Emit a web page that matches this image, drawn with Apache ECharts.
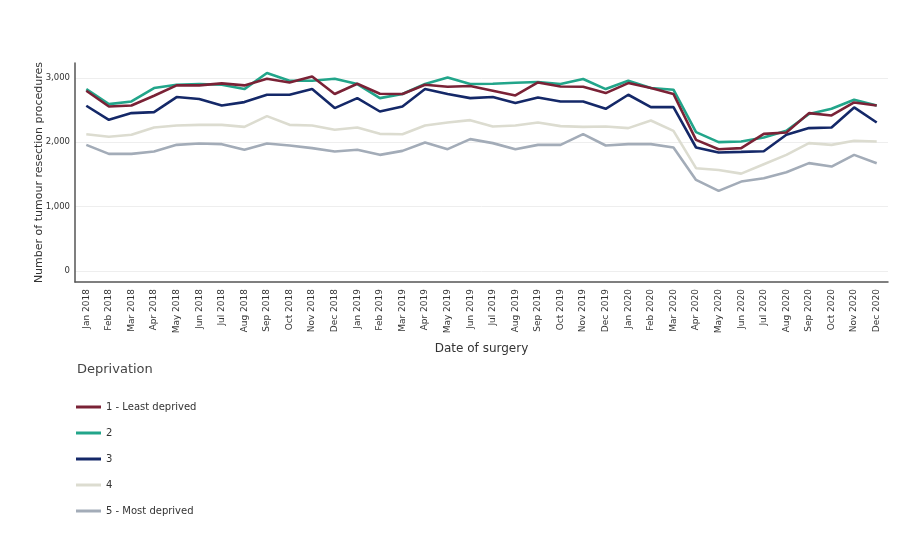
<!DOCTYPE html>
<html>
<head>
<meta charset="utf-8">
<script src="https://cdn.jsdelivr.net/npm/echarts@6/dist/echarts.min.js"></script>
<style>
html,body{margin:0;padding:0;background:#fff;}
#main{width:900px;height:555px;}
</style>
</head>
<body>
<div id="main"></div>
<script>
const months = ['Jan','Feb','Mar','Apr','May','Jun','Jul','Aug','Sep','Oct','Nov','Dec'];
const categories = [];
[2018, 2019, 2020].forEach(y => months.forEach(m => categories.push(m + ' ' + y)));

const seriesNames = ['1 - Least deprived', '2', '3', '4', '5 - Most deprived'];

const leastDeprived = [2800,2555,2570,2721,2882,2882,2913,2882,2986,2928,3021,2748,
                       2908,2752,2748,2892,2861,2872,2799,2726,2928,2866,2861,2763,
                       2918,2841,2748,2037,1892,1908,2130,2150,2452,2415,2617,2570];
const quintile2 =     [2825,2592,2633,2841,2892,2903,2892,2825,3074,2955,2955,2986,
                       2903,2685,2748,2903,3006,2903,2908,2923,2934,2903,2981,2825,
                       2955,2841,2815,2157,2001,2011,2073,2177,2437,2519,2659,2570];
const quintile3 =     [2566,2348,2452,2468,2701,2670,2570,2623,2737,2737,2825,2530,
                       2685,2477,2555,2825,2748,2685,2701,2608,2695,2633,2633,2519,
                       2737,2545,2545,1918,1840,1850,1861,2115,2219,2229,2540,2306];
const quintile4 =     [2125,2084,2115,2229,2260,2270,2270,2239,2405,2270,2260,2193,
                       2229,2130,2125,2260,2306,2343,2244,2260,2306,2250,2239,2244,
                       2219,2337,2177,1597,1570,1513,1659,1804,1986,1959,2022,2011];
const mostDeprived =  [1959,1819,1819,1855,1959,1980,1970,1882,1980,1949,1908,1855,
                       1882,1804,1866,1996,1892,2048,1986,1892,1959,1959,2125,1949,
                       1970,1970,1918,1415,1244,1389,1441,1535,1675,1622,1804,1675];

const seriesData = [leastDeprived, quintile2, quintile3, quintile4, mostDeprived];
const colors = ['#7a2236', '#22a58a', '#142868', '#dcdcd0', '#a3acb8'];

const chart = echarts.init(document.getElementById('main'));
chart.setOption({
  backgroundColor: '#fff',
  animation: false,
  color: colors,
  textStyle: { fontFamily: 'DejaVu Sans' },
  title: {
    text: 'Deprivation',
    left: 72, top: 358,
    textStyle: { fontSize: 13, fontWeight: 'normal', color: '#444', fontFamily: 'DejaVu Sans' }
  },
  legend: {
    orient: 'vertical',
    left: 71, top: 397,
    itemWidth: 25, itemHeight: 3,
    itemGap: 16,
    icon: 'rect',
    data: seriesNames,
    textStyle: { fontSize: 10, color: '#333', fontFamily: 'DejaVu Sans' }
  },
  grid: { left: 75, right: 12, top: 63, bottom: 273, containLabel: false },
  xAxis: {
    type: 'category',
    data: categories,
    boundaryGap: true,
    name: 'Date of surgery',
    nameLocation: 'middle',
    nameGap: 61,
    nameTextStyle: { fontSize: 12, color: '#333', fontFamily: 'DejaVu Sans' },
    axisLine: { onZero: false, lineStyle: { color: '#555', width: 1.5 } },
    axisTick: { alignWithLabel: true, length: 4, lineStyle: { color: '#555' } },
    axisLabel: { interval: 0, rotate: 90, fontSize: 9, color: '#333', margin: 7 },
    splitLine: { show: false }
  },
  yAxis: {
    type: 'value',
    min: -170, max: 3230,
    splitNumber: 4,
    name: 'Number of tumour resection procedures',
    nameLocation: 'middle',
    nameGap: 30,
    nameMoveOverlap: false,
    nameRotate: 90,
    nameTextStyle: { fontSize: 11, color: '#333', fontFamily: 'DejaVu Sans' },
    axisLine: { show: true, lineStyle: { color: '#555', width: 1.5 } },
    axisTick: { show: false },
    axisLabel: {
      fontSize: 8.5, color: '#333', margin: 5,
      showMinLabel: false, showMaxLabel: false,
      formatter: v => (v % 1000 === 0 ? v.toLocaleString('en-US') : '')
    },
    splitLine: { show: true, showMinLine: false, showMaxLine: false, lineStyle: { color: '#eeeeee', width: 1 } }
  },
  series: seriesNames.map((n, i) => ({
    name: n,
    type: 'line',
    data: seriesData[i],
    symbol: 'none',
    smooth: false,
    lineStyle: { width: 2.6, color: colors[i] },
    z: 10 - i
  }))
});
</script>
</body>
</html>
